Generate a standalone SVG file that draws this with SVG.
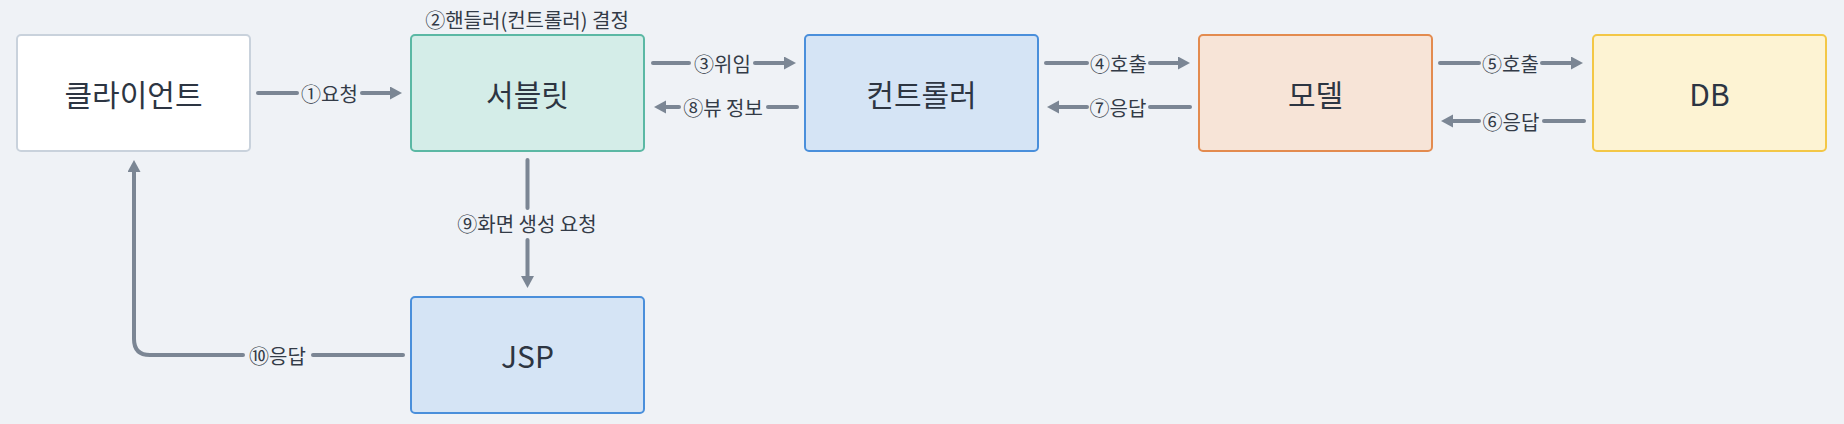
<svg xmlns="http://www.w3.org/2000/svg" width="1844" height="424" viewBox="0 0 1844 424">
<defs>
<marker id="ah" markerUnits="userSpaceOnUse" markerWidth="13" markerHeight="14" refX="2" refY="6.5" orient="auto">
<path d="M0,0 L12,6.5 L0,13 z" fill="#7b8694"/>
</marker>
<style>
.node{stroke-width:2}
.nt{font-family:"Noto Sans CJK KR","Noto Sans",sans-serif;font-size:30px;fill:#2d3542;text-anchor:middle;dominant-baseline:central}
.lb{font-family:"Noto Sans CJK KR","Noto Sans",sans-serif;font-size:20px;fill:#333b47;text-anchor:middle;dominant-baseline:central}
.ln{fill:none;stroke:#7b8694;stroke-width:4;stroke-linecap:round;stroke-linejoin:round}
.ar{marker-end:url(#ah)}
</style>
</defs>
<rect width="1844" height="424" fill="#eff2f6"/>
<g id="client"><rect class="node" x="17" y="35" width="233" height="116" rx="4" fill="#ffffff" stroke="#c9d2dc"/><text class="nt" x="133.5" y="93">클라이언트</text></g>
<g id="servlet"><rect class="node" x="411" y="35" width="233" height="116" rx="4" fill="#d4ede8" stroke="#5bb8a4"/><text class="nt" x="527.5" y="93">서블릿</text></g>
<g id="controller"><rect class="node" x="805" y="35" width="233" height="116" rx="4" fill="#d5e4f5" stroke="#4a8fdb"/><text class="nt" x="921.5" y="93">컨트롤러</text></g>
<g id="model"><rect class="node" x="1199" y="35" width="233" height="116" rx="4" fill="#f7e4d7" stroke="#e38b4f"/><text class="nt" x="1315.5" y="93">모델</text></g>
<g id="db"><rect class="node" x="1593" y="35" width="233" height="116" rx="4" fill="#fdf3d3" stroke="#f3c746"/><text class="nt" x="1709.5" y="93">DB</text></g>
<g id="jsp"><rect class="node" x="411" y="297" width="233" height="116" rx="4" fill="#d5e4f5" stroke="#4a8fdb"/><text class="nt" x="527.5" y="355">JSP</text></g>
<text class="lb" x="527" y="19">②핸들러(컨트롤러) 결정</text>
<g id="connectors">
<path class="ln" d="M258,93 H297"/><path class="ln ar" d="M362,93 H392"/><text class="lb" x="329.5" y="93">①요청</text>
<path class="ln" d="M653,63 H689"/><path class="ln ar" d="M755,63 H786"/><text class="lb" x="722.5" y="63">③위임</text>
<path class="ln" d="M797,107 H768"/><path class="ln ar" d="M679,107 H664"/><text class="lb" x="723" y="107">⑧뷰 정보</text>
<path class="ln" d="M1046,63 H1087"/><path class="ln ar" d="M1150,63 H1180"/><text class="lb" x="1118.5" y="63">④호출</text>
<path class="ln" d="M1190,107 H1150"/><path class="ln ar" d="M1087,107 H1057"/><text class="lb" x="1118" y="107">⑦응답</text>
<path class="ln" d="M1440,63 H1479"/><path class="ln ar" d="M1542,63 H1573"/><text class="lb" x="1510.5" y="63">⑤호출</text>
<path class="ln" d="M1584,121 H1544"/><path class="ln ar" d="M1479,121 H1451"/><text class="lb" x="1511" y="121">⑥응답</text>
<path class="ln" d="M527.5,160 V208"/><path class="ln ar" d="M527.5,240 V278"/><text class="lb" x="527" y="223">⑨화면 생성 요청</text>
<path class="ln" d="M403,355 H313"/><path class="ln ar" d="M243,355 H150 Q134,355 134,339 V170"/><text class="lb" x="277.5" y="355">⑩응답</text>
</g>
</svg>
